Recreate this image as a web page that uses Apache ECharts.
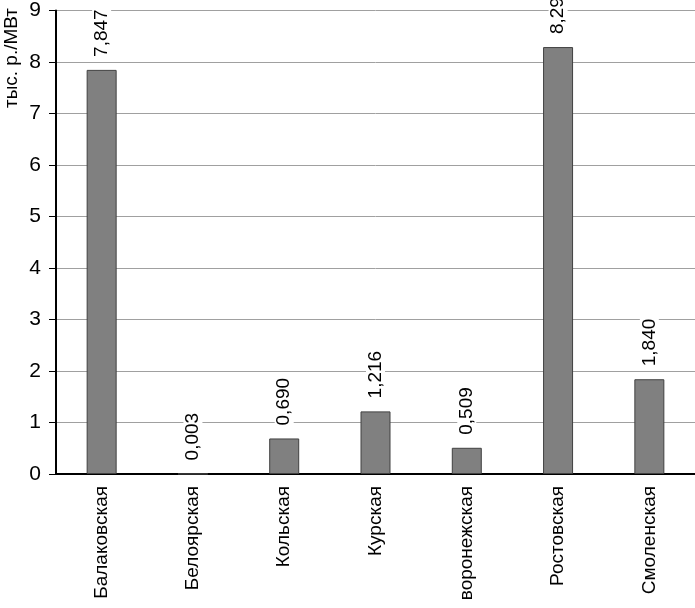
<!DOCTYPE html>
<html><head><meta charset="utf-8">
<script src="https://cdn.jsdelivr.net/npm/echarts@6/dist/echarts.min.js"></script>
<style>html,body{margin:0;padding:0;background:#fff}#c{width:695px;height:608px}</style>
</head><body><div id="c"></div>
<script>
var categories = ['Балаковская','Белоярская','Кольская','Курская','воронежская','Ростовская','Смоленская'];
var values = [7.847, 0.003, 0.690, 1.216, 0.509, 8.290, 1.840];
var yTicks = [0,1,2,3,4,5,6,7,8,9];
var yName = 'тыс. р./МВт';
var font = '"Liberation Sans", Arial, sans-serif';
var chart = echarts.init(document.getElementById('c'));
chart.setOption({
  animation:false,
  grid:{left:56,right:0,top:10,bottom:134,containLabel:false},
  graphic:[{type:'text',x:12,y:58,rotation:Math.PI/2,style:{text:yName,font:'19px '+font,fill:'#000',textAlign:'center',textVerticalAlign:'middle'}}],
  xAxis:{type:'category',data:categories,
    axisLine:{lineStyle:{color:'#000',width:2}},axisTick:{show:false},
    axisLabel:{rotate:90,margin:12,color:'#000',fontSize:19,fontFamily:font,interval:0}},
  yAxis:{type:'value',min:yTicks[0],max:yTicks[yTicks.length-1],interval:1,
    axisLine:{show:true,lineStyle:{color:'#000',width:2}},
    axisTick:{show:true,inside:false,length:7,lineStyle:{color:'#000',width:1}},
    axisLabel:{color:'#000',fontSize:21,fontFamily:font,margin:15},
    splitLine:{lineStyle:{color:'#a0a0a0',width:1}}},
  series:[{type:'bar',data:values,barWidth:30,
    itemStyle:{color:'#808080',borderColor:'#404040',borderWidth:1},
    label:{show:true,position:'top',distance:10,rotate:90,align:'left',verticalAlign:'middle',
      color:'#000',fontSize:19,fontFamily:font,backgroundColor:'#fff',padding:[0,3],
      formatter:function(p){return p.value.toFixed(3).replace('.',',');}}}]
});
</script></body></html>
